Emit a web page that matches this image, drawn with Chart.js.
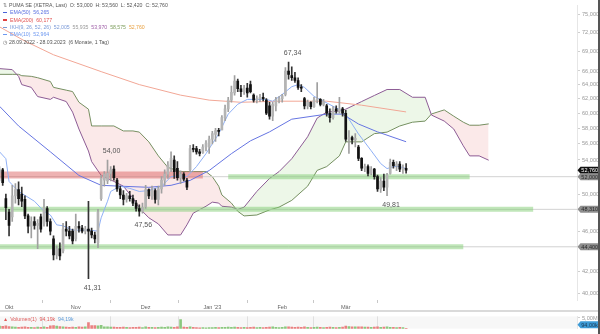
<!DOCTYPE html>
<html>
<head>
<meta charset="utf-8">
<script src="https://cdn.jsdelivr.net/npm/chart.js@4.4.0/dist/chart.umd.min.js"></script>
<style>
body { margin:0; background:#fff; }
#wrap { position:relative; width:600px; height:334px; overflow:hidden; font-family:"Liberation Sans", Arial, sans-serif; }
#main { position:absolute; left:0; top:0; }
#vol { position:absolute; left:0; top:311px; }
#sep { position:absolute; left:0; top:310px; width:598px; height:2px; background:#dadada; }
#edge { position:absolute; left:598px; top:0; width:2px; height:334px; background:#555; }
.leg { position:absolute; left:3px; font-size:5.2px; color:#555; white-space:nowrap; line-height:7px; }
.ico { display:inline-block; width:4px; height:1.5px; margin-right:3px; vertical-align:middle; }
</style>
</head>
<body>
<div id="wrap">
  <canvas id="main" width="600" height="311"></canvas>
  <div id="sep"></div>
  <canvas id="vol" width="600" height="23"></canvas>
  <div id="edge"></div>

  <div class="leg" style="top:2px"><span style="color:#888;margin-right:2px">⇅</span>PUMA SE (XETRA, Last)&nbsp; O: 53,000&nbsp; H: 53,560&nbsp; L: 52,420&nbsp; C: 52,760</div>
  <div class="leg" style="top:9px"><span class="ico" style="background:#4a62d8"></span><span style="color:#5a70e0">EMA(50)&nbsp; 56,265</span></div>
  <div class="leg" style="top:16.5px"><span class="ico" style="background:#e04040"></span><span style="color:#e05050">EMA(200)&nbsp; 60,177</span></div>
  <div class="leg" style="top:24px"><span class="ico" style="background:#7a9ad8"></span><span style="color:#7a9ad8">IKH(9, 26, 52, 26)&nbsp; 52,005</span>&nbsp; <span style="color:#9a9a9a">55,935</span>&nbsp; <span style="color:#a060a8">53,970</span>&nbsp; <span style="color:#7f9f5f">58,575</span>&nbsp; <span style="color:#e8a040">52,760</span></div>
  <div class="leg" style="top:31px"><span class="ico" style="background:#6d98f0"></span><span style="color:#6d98f0">EMA(10)&nbsp; 52,964</span></div>
  <div class="leg" style="top:38.5px"><span style="color:#666;margin-right:2px">◷</span>28.09.2022 - 28.03.2023&nbsp; (6 Monate, 1 Tag)</div>
  <div class="leg" style="top:315.5px;color:#e05a5a"><span style="margin-right:2px">▲</span>Volumen(1)&nbsp; 94,19k&nbsp; <span style="color:#5a9ad8">94,19k</span></div>
</div>

<script>
// daily candles, 28.09.2022 .. 28.03.2023 (index = trading day)
const opens  = [52.5,52.8,49.5,48.0,47.5,49.8,50.5,50.0,49.4,47.6, 46.5,47.0,46.6,47.5,46.8,48.4,47.0,45.2,43.6,44.2,
                44.0,46.2,46.0,46.0,45.2,46.5,46.3,46.0,46.2,46.0, 45.6,44.8,49.5,51.6,51.5,52.4,52.9,51.6,50.6,49.9,
                49.4,49.8,49.5,49.0,48.4,48.1,48.6,50.5,49.8,50.4, 49.4,50.6,51.6,52.3,53.2,54.0,53.0,51.9,52.3,51.6,
                52.8,55.4,55.4,55.0,54.9,55.6,55.6,56.6,57.2,57.7, 57.8,59.4,60.6,61.8,62.8,64.5,63.4,63.0,63.5,64.0,
                62.5,61.8,62.0,62.2,61.8,61.0,59.6,61.0,61.8,62.0, 62.6,66.0,65.3,65.0,64.6,63.6,62.0,61.0,61.5,60.9,
                61.8,61.9,61.2,61.0,60.0,59.4,60.6,60.3,60.6,60.0, 56.6,56.8,56.5,55.6,54.2,53.0,53.2,52.4,52.9,52.0,
                50.6,51.5,50.8,52.4,53.7,53.3,53.5,52.9,53.0];
const highs  = [53.2,53.0,50.0,48.3,51.0,51.2,51.4,50.8,49.8,47.8, 47.5,47.5,47.2,47.8,49.4,48.6,47.3,45.5,44.5,44.8,
                46.8,47.0,46.5,46.2,47.8,47.0,46.6,46.5,49.2,46.3, 45.9,48.3,52.2,52.6,54.0,53.2,53.3,51.8,50.9,50.4,
                50.1,50.3,49.9,49.3,48.8,49.0,51.0,50.6,50.9,50.6, 50.9,52.0,52.8,53.8,55.0,54.5,53.8,52.7,52.5,51.8,
                55.8,55.9,55.7,55.3,55.9,56.4,57.0,57.6,58.0,58.0, 59.7,61.1,62.2,63.8,65.3,64.8,63.9,63.9,64.2,64.5,
                62.7,62.4,62.6,62.8,62.0,61.5,61.5,62.2,62.3,62.6, 66.5,67.34,66.6,65.8,65.0,64.0,62.2,61.8,61.6,62.2,
                64.3,62.0,61.9,61.2,60.6,60.9,61.0,62.2,60.8,60.4, 57.7,57.0,57.3,55.8,54.3,53.5,53.4,53.2,53.0,52.2,
                51.9,52.3,52.4,54.1,54.0,53.8,53.8,53.4,53.56];
const lows   = [51.5,51.0,47.2,45.5,47.0,49.0,48.8,48.6,47.3,45.8, 45.3,46.2,44.2,45.9,46.5,46.5,45.6,43.1,43.2,43.1,
                43.8,45.5,45.2,44.7,45.0,45.9,45.8,45.7,41.31,45.3, 44.8,44.3,49.3,50.9,51.2,51.5,51.6,50.3,49.5,48.8,
                49.1,49.2,48.7,48.1,47.56,47.9,48.4,49.5,49.4,49.0, 48.8,50.1,51.0,51.8,52.6,51.8,51.6,51.2,51.5,50.5,
                52.6,55.0,54.7,54.5,54.8,55.1,54.8,56.0,56.3,57.0, 57.8,59.0,60.2,61.5,62.5,63.0,62.3,62.6,62.2,62.8,
                61.5,61.4,61.6,61.7,59.8,59.2,59.0,60.3,61.4,61.5, 62.4,64.8,64.6,64.3,63.3,63.0,60.6,60.6,60.6,60.8,
                61.4,61.0,61.0,59.6,58.8,59.2,60.0,60.0,59.6,56.3, 54.8,56.0,55.6,53.9,52.7,52.6,52.1,52.2,51.7,50.3,
                50.2,50.4,49.81,52.3,53.0,52.7,52.6,52.4,52.42];
const closes = [52.8,51.3,48.5,46.6,49.8,50.5,49.5,49.2,47.6,46.5, 47.0,46.6,46.8,46.2,48.5,47.0,46.0,43.6,44.2,43.5,
                46.2,46.0,45.5,45.0,46.5,46.3,46.0,46.2,46.0,45.6, 45.2,48.0,51.8,52.3,52.4,52.8,51.9,50.6,49.9,49.4,
                49.8,49.5,49.0,48.4,48.1,48.5,50.5,49.8,50.4,49.4, 50.6,51.6,52.3,53.4,54.2,52.6,51.9,52.3,51.7,50.8,
                55.4,55.3,55.0,54.8,55.6,56.1,56.6,57.3,57.7,57.6, 59.4,60.6,61.8,62.9,64.5,63.4,63.0,63.5,62.8,63.0,
                61.8,62.0,62.2,62.0,60.0,59.6,61.2,61.8,62.0,62.4, 66.0,65.5,65.0,64.6,63.6,63.5,61.0,61.5,60.9,61.8,
                61.9,61.2,61.6,60.0,59.4,60.6,60.3,60.6,60.0,56.6, 56.8,56.5,56.7,54.2,53.0,53.2,52.4,52.9,52.0,50.6,
                51.5,50.8,52.2,53.7,53.3,53.5,52.9,53.0,52.76];
// volume in millions
const volumes = [1.2,1.1,1.3,1.0,0.9,0.7,0.6,0.7,0.8,0.6, 0.6,0.5,0.7,0.6,0.8,0.6,1.3,1.4,1.2,1.0,
                 0.8,0.7,0.6,0.7,0.6,0.8,0.7,0.9,2.8,1.4, 1.4,1.3,1.5,0.9,0.8,0.7,0.7,0.6,0.6,0.7,
                 0.6,0.5,0.6,0.6,0.7,0.5,0.8,0.6,0.6,0.5, 0.6,0.7,0.6,0.8,0.7,0.6,0.8,4.3,0.7,0.6,
                 0.8,0.6,0.5,0.4,0.5,0.4,0.5,0.5,0.6,0.5, 0.6,0.6,0.7,0.6,0.7,0.6,0.5,0.6,0.5,0.6,
                 0.7,0.5,0.6,0.5,0.6,0.7,0.8,0.6,0.5,0.6, 0.9,0.8,0.7,0.6,0.7,0.6,0.8,0.6,0.5,0.6,
                 0.7,0.6,0.5,0.6,0.7,0.6,0.5,0.6,0.7,1.2, 1.0,0.9,0.8,0.9,0.8,0.7,0.7,0.6,0.7,0.8,
                 0.6,0.7,0.8,0.6,0.6,0.5,0.6,0.5,0.094];

// moving averages (read at a few days)
const ema200X = [0,8,17,32,44,57,66,76,88,103,114,128];
const ema200  = [72.9,70.6,68.45,65.9,64.0,62.5,61.8,61.5,61.65,61.65,61.1,60.177];
const ema50X  = [0,6,16,25,32,38,47,54,60,66,73,79,85,92,103,108,113,119,128];
const ema50   = [60.95,58.3,55.0,52.15,51.0,50.9,50.77,51.0,51.57,52.73,54.77,56.38,57.53,59.2,59.88,59.88,58.56,57.53,56.265];
const ema10X  = [0,2,3,6,11,14,16,18,20,23,28,31,32,34,35,38,41,44,47,51,54,57,59,62,65,69,72,75,78,81,84,86,89,92,94,96,99,102,105,108,110,113,117,120,122,124,126,128];
const ema10   = [55.0,54.15,51.45,50.3,49.2,48.1,47.7,46.65,46.55,46.1,46.1,46.0,47.4,49.2,50.3,50.9,50.65,50.3,50.4,50.9,52.0,52.15,52.0,53.2,54.77,57.27,59.88,61.23,61.9,61.9,61.9,61.64,62.6,63.7,64.0,63.6,62.33,61.64,60.95,60.28,59.2,57.27,55.14,53.56,52.96,53.2,53.2,52.964];

// Ichimoku cloud (shifted 26 days ahead)
const cloudX = [0,4,6,7,10,12,16,17,21,23,25,28,29,32,36,39,42,44,47,50,53,57,59,61,65,67,69,70,73,75,77,81,85,88,92,97,100,103,107,109,114,118,122,126,130,134,136,140,143,146,148,151,154];
const spanA  = [66.35,66.2,65.2,64.0,63.6,62.3,61.9,62.2,61.6,60.15,57.9,55.1,53.8,52.15,51.45,50.9,49.55,48.45,47.4,46.75,45.6,45.6,46.65,47.9,48.65,49.1,49.0,48.65,48.55,48.3,48.55,50.3,51.8,52.6,54.15,56.9,59.35,60.15,60.3,60.55,61.6,62.45,63.3,63.3,62.2,62.2,59.75,58.95,57.9,55.75,54.5,54.5,53.97];
const spanB  = [65.5,65.5,65.5,65.3,65.2,65.0,64.45,63.6,63.2,63.0,61.5,60.55,58.3,58.3,58.3,57.65,57.65,57.5,56.25,54.5,53.1,52.6,52.6,52.6,52.6,52.0,50.9,49.9,49.0,48.1,47.6,47.7,48.25,48.55,49.3,50.9,52.75,53.2,54.5,56.25,56.25,57.3,57.5,58.3,58.8,58.95,59.9,60.45,59.6,58.8,58.4,58.4,58.575];

// support / resistance zones
const zoneVal   = [52.2, 52.0, 48.31, 44.4];
const zoneStart = [0, 72, 0, 0];
const zoneEnd   = [64, 148, 168, 146];
const levelVal  = [52.0, 48.31, 44.4];

// axes
const yTicks = [40,42,46,50,54,56,58,60,62,64,66,69,72,75];
const monthIdx = [3,24,46,67,89,109];
const monthLabels = ['Okt','Nov','Dez',"Jan '23",'Feb','Mär'];
const boxVals = [52.76, 52.0, 48.31, 44.4];

// extreme value labels
const annoText = ['67,34','54,00','47,56','49,81','41,31'];
const annoIdx  = [91, 34, 44, 122, 28];
const annoVal  = [67.34, 54.00, 47.56, 49.81, 41.31];

const X_MIN = 0.15, X_MAX = 181.8;
const days = opens.map((_, i) => i);
const isUp = i => closes[i] >= opens[i];
const fmt = v => v.toFixed(3).replace('.', ',');
const FONT = '"Liberation Sans", Arial, sans-serif';

const pts = (xs, ys) => xs.map((x, k) => ({x: x, y: ys[k]}));

const datasets = [
  { type: 'line', data: pts(cloudX, spanA), borderColor: '#8d5c95', borderWidth: 1, pointRadius: 0,
    fill: { target: 1, above: 'rgba(150,205,120,0.17)', below: 'rgba(232,140,140,0.19)' }, order: 6 },
  { type: 'line', data: pts(cloudX, spanB), borderColor: '#6f8d5e', borderWidth: 1, pointRadius: 0, fill: false, order: 6 }
];
levelVal.forEach(v => datasets.push({
  type: 'line', data: [{x: X_MIN, y: v}, {x: X_MAX, y: v}], borderColor: '#d2d2d2', borderWidth: 1, pointRadius: 0, order: 5
}));
zoneVal.forEach((v, k) => datasets.push({
  type: 'line', data: [{x: zoneStart[k], y: v}, {x: zoneEnd[k], y: v}],
  borderColor: k === 0 ? 'rgba(218,85,85,0.45)' : 'rgba(130,205,115,0.5)',
  borderWidth: k === 0 ? 7 : 5, pointRadius: 0, order: 4
}));
datasets.push(
  { type: 'line', data: pts(ema200X, ema200), borderColor: '#f2a796', borderWidth: 1, pointRadius: 0, order: 3 },
  { type: 'line', data: pts(ema50X, ema50), borderColor: '#6675e2', borderWidth: 1, pointRadius: 0, order: 3 },
  { type: 'line', data: pts(ema10X, ema10), borderColor: '#8fb0f6', borderWidth: 1, pointRadius: 0, order: 2 },
  { type: 'bar', data: days.map(i => ({x: i, y: [lows[i], highs[i]]})), grouped: false, barThickness: 1,
    backgroundColor: days.map(i => isUp(i) ? '#a0a0a0' : '#333'), order: 1 },
  { type: 'bar', data: days.map(i => ({x: i, y: [Math.min(opens[i], closes[i]), Math.max(opens[i], closes[i])]})),
    grouped: false, barThickness: 2, minBarLength: 1,
    backgroundColor: days.map(i => isUp(i) ? '#b4b4b4' : '#111'), order: 0 }
);

const labelPlugin = {
  id: 'labels',
  afterDatasetsDraw(chart) {
    const {ctx, scales: {x, y}} = chart;
    ctx.save();
    ctx.font = '7px ' + FONT;
    ctx.fillStyle = '#555';
    ctx.textAlign = 'center';
    ctx.textBaseline = 'middle';
    annoText.forEach((t, k) => {
      const above = annoVal[k] >= highs[annoIdx[k]];
      const py = y.getPixelForValue(annoVal[k]) + (above ? -9 : 9);
      ctx.fillText(t, x.getPixelForValue(annoIdx[k]) + 4, py);
    });
    ctx.restore();
  },
  afterDraw(chart) {
    const {ctx, scales: {y}, chartArea} = chart;
    ctx.save();
    ctx.font = '5.5px ' + FONT;
    ctx.textAlign = 'center';
    ctx.textBaseline = 'middle';
    boxVals.forEach((v, k) => {
      const py = y.getPixelForValue(v);
      const x0 = chartArea.right + 0.5, x1 = 599;
      ctx.fillStyle = k === 0 ? '#111' : '#8e8e8e';
      ctx.beginPath();
      ctx.moveTo(x0, py); ctx.lineTo(x0 + 3, py - 3.5); ctx.lineTo(x1, py - 3.5);
      ctx.lineTo(x1, py + 3.5); ctx.lineTo(x0 + 3, py + 3.5); ctx.closePath();
      ctx.fill();
      ctx.fillStyle = k === 0 ? '#fff' : '#262626';
      ctx.fillText(fmt(v), (x0 + 3 + x1) / 2, py + 0.5);
    });
    ctx.restore();
  }
};

new Chart(document.getElementById('main'), {
  type: 'bar',
  data: { datasets: datasets },
  options: {
    responsive: false,
    animation: false,
    layout: { padding: 0 },
    plugins: { legend: { display: false }, tooltip: { enabled: false } },
    scales: {
      x: {
        type: 'linear', min: X_MIN, max: X_MAX, offset: false,
        afterBuildTicks: s => { s.ticks = monthIdx.map(v => ({value: v})); },
        afterFit: s => { s.height = 11; },
        ticks: { autoSkip: false, maxRotation: 0, padding: 1, color: '#666', font: { size: 5.6, family: FONT },
                 callback: v => monthLabels[monthIdx.indexOf(v)] },
        grid: { drawOnChartArea: false, tickLength: 3, color: '#c8c8c8' },
        border: { display: false }
      },
      y: {
        type: 'logarithmic', position: 'right', min: 39.38, max: 76.52,
        afterBuildTicks: s => { s.ticks = yTicks.map(v => ({value: v})); },
        afterFit: s => { s.width = 23; },
        ticks: { autoSkip: false, padding: 2, color: '#999', font: { size: 5.6, family: FONT }, callback: v => fmt(v) },
        grid: { drawOnChartArea: false, tickLength: 3, color: '#cfcfcf' },
        border: { display: true, color: '#e6e6e6' }
      }
    }
  },
  plugins: [labelPlugin]
});

const volPlugin = {
  id: 'volbg',
  beforeDraw(chart) {
    const {ctx, chartArea: a} = chart;
    ctx.save();
    ctx.fillStyle = '#f7f7f7';
    ctx.fillRect(a.left, a.top, a.right - a.left, a.bottom - a.top);
    ctx.restore();
  },
  afterDraw(chart) {
    const {ctx, chartArea: a, scales: {y}} = chart;
    const py = Math.min(y.getPixelForValue(volumes[volumes.length - 1]), a.bottom - 4);
    ctx.save();
    ctx.fillStyle = '#3d9bd6';
    ctx.beginPath();
    ctx.moveTo(a.right + 0.5, py); ctx.lineTo(a.right + 3.5, py - 3.5); ctx.lineTo(599, py - 3.5);
    ctx.lineTo(599, py + 3.5); ctx.lineTo(a.right + 3.5, py + 3.5); ctx.closePath();
    ctx.fill();
    ctx.font = '5.5px ' + FONT;
    ctx.fillStyle = '#1a3a55';
    ctx.textAlign = 'center';
    ctx.textBaseline = 'middle';
    ctx.fillText((volumes[volumes.length - 1] * 1000).toFixed(2).replace('.', ',') + 'k', (a.right + 602) / 2, py + 0.5);
    ctx.restore();
  }
};

new Chart(document.getElementById('vol'), {
  type: 'bar',
  data: { datasets: [{
    data: days.map(i => ({x: i, y: volumes[i]})), grouped: false, barThickness: 2,
    backgroundColor: days.map(i => isUp(i) ? 'rgba(120,192,105,0.85)' : 'rgba(232,108,108,0.85)')
  }] },
  options: {
    responsive: false,
    animation: false,
    layout: { padding: 0 },
    plugins: { legend: { display: false }, tooltip: { enabled: false } },
    scales: {
      x: {
        type: 'linear', min: X_MIN, max: X_MAX, offset: false,
        afterBuildTicks: s => { s.ticks = monthIdx.map(v => ({value: v})); },
        afterFit: s => { s.height = 0; },
        ticks: { display: false },
        grid: { color: '#e0e0e0', drawTicks: false },
        border: { display: false }
      },
      y: {
        position: 'right', min: 0, max: 5.75,
        afterBuildTicks: s => { s.ticks = [{value: 5}]; },
        afterFit: s => { s.width = 23; },
        ticks: { padding: 2, color: '#999', font: { size: 5.6, family: FONT }, callback: v => v.toFixed(2).replace('.', ',') + 'M' },
        grid: { drawOnChartArea: false, tickLength: 3, color: '#cfcfcf' },
        border: { display: true, color: '#e6e6e6' }
      }
    }
  },
  plugins: [volPlugin]
});
</script>
</body>
</html>
